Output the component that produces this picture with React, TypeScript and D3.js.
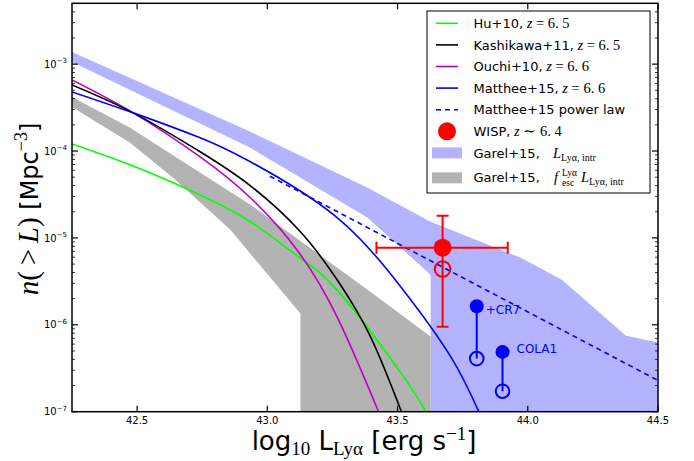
import React from 'react';
import * as d3 from 'd3';

const W = 694;
const H = 461;
const X_DOMAIN: [number, number] = [42.25, 44.5];
const Y_DOMAIN: [number, number] = [1e-7, Math.pow(10, -2.3)];

const X_TICKS = [42.5, 43.0, 43.5, 44.0, 44.5];
const X_TICK_LABELS = ['42.5', '43.0', '43.5', '44.0', '44.5'];
const Y_TICK_EXPS = [-7, -6, -5, -4, -3];

// Curves: log10 L(Lya) and log10 n(>L)
const huL = [42.25, 42.473, 42.715, 42.935, 43.119, 43.273, 43.512, 43.608];
const huLogN = [-3.918, -4.159, -4.469, -4.814, -5.216, -5.618, -6.55, -7.0];

const kashL = [42.25, 42.485, 42.742, 42.935, 43.127, 43.273, 43.396, 43.515];
const kashLogN = [-3.239, -3.561, -4.009, -4.4, -4.929, -5.504, -6.136, -7.0];

const ouchiL = [42.25, 42.485, 42.742, 42.935, 43.119, 43.273, 43.427];
const ouchiLogN = [-3.182, -3.561, -4.067, -4.538, -5.159, -5.941, -7.0];

const mattL = [42.25, 42.485, 42.742, 42.935, 43.254, 43.512, 43.704, 43.812];
const mattLogN = [-3.32, -3.561, -3.848, -4.124, -4.733, -5.561, -6.366, -7.0];

const plawL = [43.01, 44.5];
const plawLogN = [-4.29, -6.64];

// Garel+15 intrinsic band
const garelUpL = [42.25, 42.935, 43.385, 43.627, 43.781, 43.973, 44.131, 44.377, 44.504];
const garelUpLogN = [-2.86, -3.779, -4.423, -4.814, -4.998, -5.228, -5.481, -6.125, -6.205];
const garelLoL = [42.25, 42.935, 43.385, 43.627, 43.627];
const garelLoLogN = [-2.975, -3.963, -4.768, -5.423, -7.5];

// Garel+15 fesc band
const fescUpL = [42.25, 42.473, 42.935, 43.385, 43.627, 43.627];
const fescUpLogN = [-3.377, -3.733, -4.618, -5.596, -6.136, -7.5];
const fescLoL = [42.25, 42.473, 42.638, 42.858, 43.127, 43.127];
const fescLoLogN = [-3.492, -3.906, -4.308, -4.906, -5.871, -7.5];

// WISP point
const wispL = 43.673;
const wispLogN = -5.113;
const wispXErr = [43.419, 43.923];
const wispYErr = [-4.744, -6.022];
const wispOpenLogN = -5.357;

// CR7 and COLA1
const srcNames = ['+CR7', 'COLA1'];
const srcL = [43.804, 43.903];
const srcFilledLogN = [-5.787, -6.312];
const srcOpenLogN = [-6.389, -6.764];

const SANS = 'DejaVu Sans';
const SERIF = 'Liberation Serif';

const L_LEFT = 72;
const L_RIGHT = 658;
const P_TOP = 3.3;
const P_BOTTOM = 411.7;

const xS = d3.scaleLinear().domain(X_DOMAIN).range([L_LEFT, L_RIGHT]);
const yS = d3.scaleLog().domain(Y_DOMAIN).range([P_BOTTOM, P_TOP]);
const py = (v: number) => yS(Math.pow(10, v));
const zip = (a: number[], b: number[]): [number, number][] => a.map((v, i) => [v, b[i]]);

const curveGen = d3
  .line<[number, number]>()
  .x((d) => xS(d[0]))
  .y((d) => py(d[1]))
  .curve(d3.curveNatural);

const polyGen = d3
  .line<[number, number]>()
  .x((d) => xS(d[0]))
  .y((d) => py(d[1]));

function bandPath(upL: number[], upN: number[], loL: number[], loN: number[]) {
  const up = zip(upL, upN);
  const last = up[up.length - 1];
  const pts: [number, number][] = [...up, [last[0], -7.5], ...zip(loL, loN).reverse()];
  return polyGen(pts) + 'Z';
}

const curves = [
  { L: huL, N: huLogN, color: '#00ff00' },
  { L: ouchiL, N: ouchiLogN, color: '#bf00bf' },
  { L: kashL, N: kashLogN, color: '#000000' },
  { L: mattL, N: mattLogN, color: '#0000ff' },
];

const legendY = [23.3, 44.9, 66.5, 88.1, 109.7, 131.3, 152.9, 177.8];

export default function App() {
  const minorTicks: number[] = [];
  for (const e of Y_TICK_EXPS) {
    for (let m = 2; m <= 9; m++) {
      const v = m * Math.pow(10, e);
      if (v < Y_DOMAIN[1]) minorTicks.push(v);
    }
  }
  const lgX0 = 436;
  const lgX1 = 458;
  const lgT = 473.5;
  const mathSize = 14.5;

  const lineEntry = (i: number, label: string, zz: string, color: string, dashed = false) => (
    <g key={'lg' + i}>
      <line x1={lgX0} x2={lgX1} y1={legendY[i]} y2={legendY[i]} stroke={color} strokeWidth={1.6} strokeDasharray={dashed ? '5,4' : undefined} />
      <text x={lgT} y={legendY[i] + 4.6} fontFamily={SANS} fontSize={13}>
        {label}
        {zz && (
          <tspan fontFamily={SERIF} fontSize={mathSize}>
            {' '}
            <tspan fontStyle="italic">z</tspan>
            {zz}
          </tspan>
        )}
      </text>
    </g>
  );

  return (
    <svg width={W} height={H} style={{ position: 'absolute', left: 0, top: 0, background: '#fff' }}>
      <defs>
        <clipPath id="plotclip">
          <rect x={L_LEFT} y={P_TOP} width={L_RIGHT - L_LEFT} height={P_BOTTOM - P_TOP} />
        </clipPath>
      </defs>
      <rect x={0} y={0} width={W} height={H} fill="#fff" />
      <g clipPath="url(#plotclip)">
        <path d={bandPath(garelUpL, garelUpLogN, garelLoL, garelLoLogN)} fill="#b3b3ff" stroke="none" />
        <path d={bandPath(fescUpL, fescUpLogN, fescLoL, fescLoLogN)} fill="#b3b3b3" stroke="none" />
        {curves.map((c, i) => (
          <path key={i} d={curveGen(zip(c.L, c.N)) || ''} fill="none" stroke={c.color} strokeWidth={1.6} />
        ))}
        <path d={polyGen(zip(plawL, plawLogN)) || ''} fill="none" stroke="#0000ff" strokeWidth={1.6} strokeDasharray="5,4" />
        {/* WISP */}
        <g stroke="#ff0000" strokeWidth={2} fill="none">
          <line x1={xS(wispXErr[0])} x2={xS(wispXErr[1])} y1={py(wispLogN)} y2={py(wispLogN)} />
          <line x1={xS(wispL)} x2={xS(wispL)} y1={py(wispYErr[0])} y2={py(wispYErr[1])} />
          <line x1={xS(wispXErr[0])} x2={xS(wispXErr[0])} y1={py(wispLogN) - 6} y2={py(wispLogN) + 6} />
          <line x1={xS(wispXErr[1])} x2={xS(wispXErr[1])} y1={py(wispLogN) - 6} y2={py(wispLogN) + 6} />
          <line x1={xS(wispL) - 6} x2={xS(wispL) + 6} y1={py(wispYErr[0])} y2={py(wispYErr[0])} />
          <line x1={xS(wispL) - 6} x2={xS(wispL) + 6} y1={py(wispYErr[1])} y2={py(wispYErr[1])} />
          <circle cx={xS(wispL)} cy={py(wispOpenLogN)} r={7.8} />
        </g>
        <circle cx={xS(wispL)} cy={py(wispLogN)} r={9} fill="#ff0000" />
        {/* CR7 / COLA1 */}
        {srcL.map((L, i) => (
          <g key={'s' + i}>
            <line x1={xS(L)} x2={xS(L)} y1={py(srcFilledLogN[i])} y2={py(srcOpenLogN[i])} stroke="#0000ff" strokeWidth={2} />
            <circle cx={xS(L)} cy={py(srcOpenLogN[i])} r={6.8} fill="none" stroke="#0000ff" strokeWidth={2} />
            <circle cx={xS(L)} cy={py(srcFilledLogN[i])} r={7} fill="#0000ff" />
          </g>
        ))}
      </g>
      <text x={xS(srcL[0]) + 9} y={py(srcFilledLogN[0]) + 8} fontFamily={SANS} fontSize={12} fill="#0000ff">
        {srcNames[0]}
      </text>
      <text x={xS(srcL[1]) + 14} y={py(srcFilledLogN[1]) + 1} fontFamily={SANS} fontSize={12} fill="#0000ff">
        {srcNames[1]}
      </text>

      {/* frame */}
      <rect x={L_LEFT} y={P_TOP} width={L_RIGHT - L_LEFT} height={P_BOTTOM - P_TOP} fill="none" stroke="#000" strokeWidth={1.5} />
      {/* x ticks */}
      {X_TICKS.map((t, i) => (
        <g key={'xt' + i}>
          <line x1={xS(t)} x2={xS(t)} y1={P_BOTTOM} y2={P_BOTTOM - 6} stroke="#000" strokeWidth={1.2} />
          <line x1={xS(t)} x2={xS(t)} y1={P_TOP} y2={P_TOP + 6} stroke="#000" strokeWidth={1.2} />
          <text x={xS(t)} y={424} textAnchor="middle" fontFamily={SANS} fontSize={10}>
            {X_TICK_LABELS[i]}
          </text>
        </g>
      ))}
      {/* y ticks */}
      {Y_TICK_EXPS.map((e) => {
        const y = yS(Math.pow(10, e));
        return (
          <g key={'yt' + e}>
            <line x1={L_LEFT} x2={L_LEFT + 6} y1={y} y2={y} stroke="#000" strokeWidth={1.2} />
            <line x1={L_RIGHT} x2={L_RIGHT - 6} y1={y} y2={y} stroke="#000" strokeWidth={1.2} />
            <text x={67} y={y + 3.6} textAnchor="end" fontFamily={SANS} fontSize={10}>
              10
              <tspan fontSize={7} dy={-4.5}>
                {'\u2212' + Math.abs(e)}
              </tspan>
            </text>
          </g>
        );
      })}
      {minorTicks.map((v, i) => {
        const y = yS(v);
        return (
          <g key={'ym' + i}>
            <line x1={L_LEFT} x2={L_LEFT + 3} y1={y} y2={y} stroke="#000" strokeWidth={0.8} />
            <line x1={L_RIGHT} x2={L_RIGHT - 3} y1={y} y2={y} stroke="#000" strokeWidth={0.8} />
          </g>
        );
      })}

      {/* axis labels */}
      <text x={364} y={450} textAnchor="middle" fontFamily={SANS} fontSize={26}>
        log
        <tspan fontFamily={SERIF} fontSize={19} dy={5}>
          10
        </tspan>
        <tspan dy={-5}> L</tspan>
        <tspan fontFamily={SERIF} fontSize={19} dy={5}>
          Ly{'\u03b1'}
        </tspan>
        <tspan dy={-5}> [erg s</tspan>
        <tspan fontFamily={SERIF} fontSize={19} dy={-10}>
          {'\u22121'}
        </tspan>
        <tspan dy={10}>]</tspan>
      </text>
      <text transform="translate(38,209) rotate(-90)" textAnchor="middle" fontFamily={SANS} fontSize={24}>
        <tspan fontFamily={SERIF} fontStyle="italic" fontSize={29}>
          n
        </tspan>
        <tspan fontFamily={SERIF} fontSize={29}>
          ({'\u2009'}&gt;{'\u2009'}
        </tspan>
        <tspan fontFamily={SERIF} fontStyle="italic" fontSize={29}>
          L
        </tspan>
        <tspan fontFamily={SERIF} fontSize={29}>
          )
        </tspan>
        <tspan> [Mpc</tspan>
        <tspan fontFamily={SERIF} fontSize={18} dy={-11}>
          {'\u22123'}
        </tspan>
        <tspan dy={11}>]</tspan>
      </text>

      {/* legend */}
      <rect x={427} y={11} width={223} height={182} fill="#fff" stroke="#000" strokeWidth={1} />
      {lineEntry(0, 'Hu+10,', ' = 6. 5', '#00ff00')}
      {lineEntry(1, 'Kashikawa+11,', ' = 6. 5', '#000000')}
      {lineEntry(2, 'Ouchi+10,', ' = 6. 6', '#bf00bf')}
      {lineEntry(3, 'Matthee+15,', ' = 6. 6', '#0000ff')}
      {lineEntry(4, 'Matthee+15 power law', '', '#0000ff', true)}
      <circle cx={447} cy={legendY[5]} r={9} fill="#ff0000" />
      <text x={lgT} y={legendY[5] + 4.6} fontFamily={SANS} fontSize={13}>
        WISP,
        <tspan fontFamily={SERIF} fontSize={mathSize}>
          {' '}
          <tspan fontStyle="italic">z</tspan>
          {' \u223c 6. 4'}
        </tspan>
      </text>
      <rect x={432} y={legendY[6] - 5.5} width={30} height={11} fill="#b3b3ff" />
      <text x={lgT} y={legendY[6] + 4.6} fontFamily={SANS} fontSize={13}>
        Garel+15,
      </text>
      <text x={553} y={legendY[6] + 4.6} fontFamily={SERIF} fontSize={mathSize}>
        <tspan fontStyle="italic">L</tspan>
        <tspan fontSize={10} dy={3}>
          Ly{'\u03b1'}, intr
        </tspan>
      </text>
      <rect x={432} y={legendY[7] - 5.5} width={30} height={11} fill="#b3b3b3" />
      <text x={lgT} y={legendY[7] + 4.6} fontFamily={SANS} fontSize={13}>
        Garel+15,
      </text>
      <text x={554} y={legendY[7] + 4.6} fontFamily={SERIF} fontSize={mathSize} fontStyle="italic">
        f
      </text>
      <text x={562} y={legendY[7] - 1.5} fontFamily={SERIF} fontSize={9.5}>
        Ly{'\u03b1'}
      </text>
      <text x={562} y={legendY[7] + 8} fontFamily={SERIF} fontSize={9.5}>
        esc
      </text>
      <text x={581} y={legendY[7] + 4.6} fontFamily={SERIF} fontSize={mathSize}>
        <tspan fontStyle="italic">L</tspan>
        <tspan fontSize={10} dy={3}>
          Ly{'\u03b1'}, intr
        </tspan>
      </text>
    </svg>
  );
}
